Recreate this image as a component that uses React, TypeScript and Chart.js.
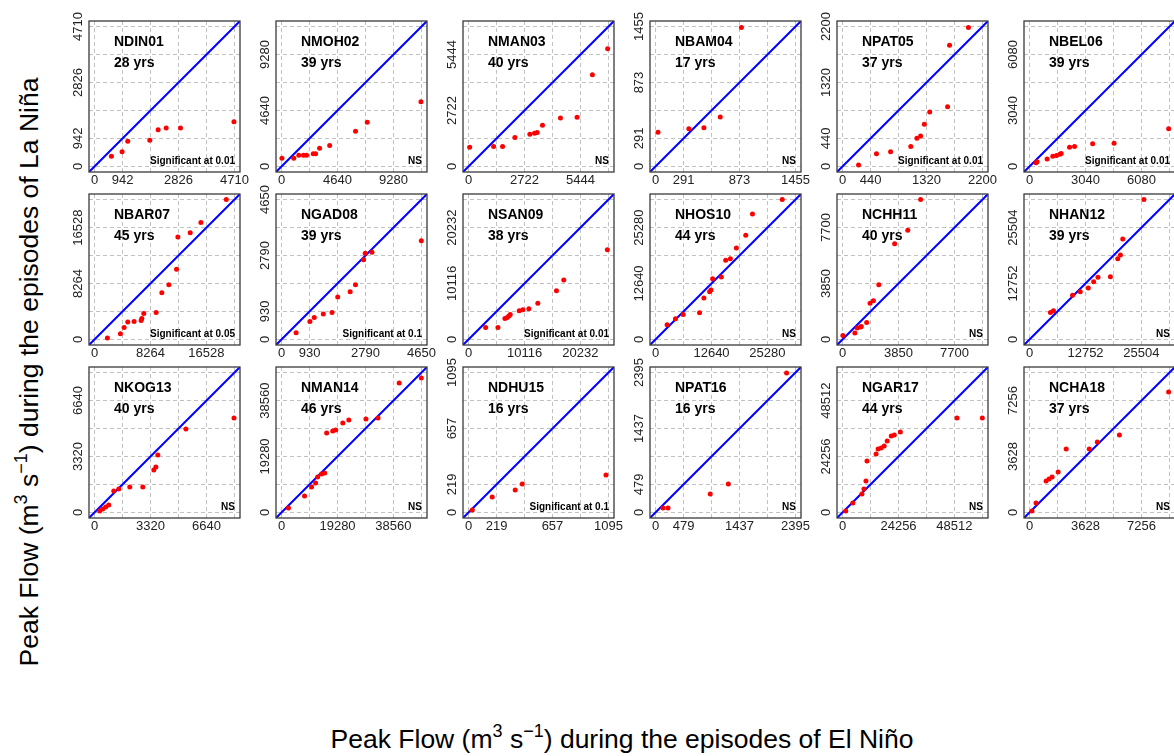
import React, { useEffect, useRef } from 'react';
import { Chart, registerables } from 'chart.js';

Chart.register(...registerables);

// ---------- DATA ----------
const stations = ['NDIN01', 'NMOH02', 'NMAN03', 'NBAM04', 'NPAT05', 'NBEL06', 'NBAR07', 'NGAD08', 'NSAN09', 'NHOS10', 'NCHH11', 'NHAN12', 'NKOG13', 'NMAN14', 'NDHU15', 'NPAT16', 'NGAR17', 'NCHA18'];
const recordYears = [28, 39, 40, 17, 37, 39, 45, 39, 38, 44, 40, 39, 40, 46, 16, 16, 44, 37];
const axisMax = [4710, 11600, 6805, 1455, 2200, 7600, 20660, 4650, 25290, 31600, 9625, 31880, 8300, 48200, 1095, 2395, 60640, 9070];
const tickLabels = [
  [0, 942, 2826, 4710], [0, 4640, 9280], [0, 2722, 5444], [0, 291, 873, 1455], [0, 440, 1320, 2200], [0, 3040, 6080],
  [0, 8264, 16528], [0, 930, 2790, 4650], [0, 10116, 20232], [0, 12640, 25280], [0, 3850, 7700], [0, 12752, 25504],
  [0, 3320, 6640], [0, 19280, 38560], [0, 219, 657, 1095], [0, 479, 1437, 2395], [0, 24256, 48512], [0, 3628, 7256],
];
const significance = [
  'Significant at 0.01', 'NS', 'NS', 'NS', 'Significant at 0.01', 'Significant at 0.01',
  'Significant at 0.05', 'Significant at 0.1', 'Significant at 0.01', 'NS', 'NS', 'NS',
  'NS', 'NS', 'Significant at 0.1', 'NS', 'NS', 'NS',
];

// El Niño (x) and La Niña (y) peak flows per station
const ndin01ElNino = [566, 926, 1117, 1860, 2141, 2411, 2895, 4695];
const ndin01LaNina = [346, 491, 848, 882, 1239, 1295, 1295, 1507];
const nmoh02ElNino = [30, 1010, 1428, 1818, 2068, 2625, 2820, 3154, 3989, 6133, 7107, 11561];
const nmoh02LaNina = [687, 687, 935, 935, 935, 1045, 1045, 1512, 1732, 2914, 3656, 5360];
const nman03ElNino = [52, 1217, 1654, 2253, 2982, 3208, 3338, 3597, 4471, 5280, 6025, 6769];
const nman03LaNina = [935, 968, 968, 1403, 1564, 1613, 1645, 2000, 2354, 2387, 4467, 5725];
const nbam04ElNino = [25, 346, 503, 673, 893];
const nbam04LaNina = [355, 393, 403, 514, 1445];
const npat05ElNino = [251, 533, 755, 1073, 1169, 1227, 1286, 1371, 1652, 1683, 1980];
const npat05LaNina = [21, 198, 229, 313, 443, 480, 662, 855, 938, 1908, 2184];
const nbel06ElNino = [351, 406, 952, 1261, 1461, 1643, 1716, 2171, 2444, 3427, 4592, 7558];
const nbel06LaNina = [198, 252, 396, 558, 594, 666, 702, 1045, 1081, 1225, 1261, 2053];
const nbar07ElNino = [1890, 3815, 4358, 4901, 5839, 6875, 6974, 7270, 9096, 9935, 10971, 12107, 12304, 14130, 15710, 19461];
const nbar07LaNina = [197, 838, 1775, 2564, 2663, 2811, 3106, 3846, 3994, 6903, 8086, 10355, 15137, 15778, 17258, 20660];
const ngad08ElNino = [483, 941, 1086, 1387, 1677, 1867, 2280, 2458, 2726, 2782, 3005, 4646];
const ngad08LaNina = [222, 599, 732, 843, 899, 1409, 1587, 1820, 2652, 2863, 2897, 3285];
const nsan09ElNino = [3080, 5306, 6569, 6990, 7291, 7532, 9156, 9818, 10900, 12524, 15893, 17217, 25098];
const nsan09LaNina = [2173, 2173, 3803, 3984, 4225, 4527, 5191, 5372, 5553, 6519, 8812, 10744, 16237];
const nhos10ElNino = [2596, 4487, 6228, 9936, 10919, 12206, 12509, 12887, 14854, 15838, 16897, 18260, 20378, 21892, 28626];
const nhos10LaNina = [3318, 4676, 5656, 6033, 9352, 10785, 11162, 13726, 14103, 17874, 18251, 20664, 23530, 28357, 31600];
const nchh11ElNino = [20, 845, 1007, 1239, 1285, 1657, 1889, 2121, 2492, 3583, 4488, 5369];
const nchh11LaNina = [276, 436, 781, 850, 896, 1172, 2481, 2665, 3767, 6593, 7512, 9625];
const nhan12ElNino = [4756, 5443, 9794, 11550, 13382, 14604, 15596, 18421, 20100, 20711, 21245, 26055];
const nhan12LaNina = [6163, 6543, 10043, 10880, 11717, 13163, 14152, 14304, 18413, 19250, 22902, 31880];
const nkog13ElNino = [303, 482, 660, 839, 1136, 1434, 2088, 2862, 3516, 3635, 3754, 5420, 8276];
const nkog13LaNina = [77, 196, 315, 434, 1265, 1384, 1503, 1503, 2513, 2691, 3404, 4949, 5602];
const nman14ElNino = [2360, 7912, 10341, 11729, 12423, 13811, 14852, 15546, 17628, 18669, 21098, 23180, 29080, 33244, 40531, 48165];
const nman14LaNina = [1484, 5624, 8729, 10109, 12179, 13214, 13559, 27360, 28050, 28395, 30810, 31846, 32191, 32536, 44612, 46337];
const ndhu15ElNino = [29, 185, 365, 420, 1076];
const ndhu15LaNina = [18, 120, 175, 222, 292];
const npat16ElNino = [127, 213, 936, 1246, 2244];
const npat16LaNina = [74, 74, 314, 485, 2388];
const ngar17ElNino = [1360, 4432, 8381, 9259, 10136, 10575, 14524, 15401, 16718, 18034, 19350, 21105, 22422, 25054, 49626, 60596];
const ngar17LaNina = [564, 4037, 7944, 10114, 13587, 22268, 25307, 27477, 27911, 28779, 30950, 33120, 33554, 34856, 40933, 40933];
const ncha18ElNino = [156, 417, 1069, 1264, 1460, 1851, 2372, 3870, 4392, 5825, 9018];
const ncha18LaNina = [84, 603, 2032, 2162, 2292, 2616, 4110, 4110, 4564, 5019, 7810];

const elNinoSeries = [ndin01ElNino, nmoh02ElNino, nman03ElNino, nbam04ElNino, npat05ElNino, nbel06ElNino, nbar07ElNino, ngad08ElNino, nsan09ElNino, nhos10ElNino, nchh11ElNino, nhan12ElNino, nkog13ElNino, nman14ElNino, ndhu15ElNino, npat16ElNino, ngar17ElNino, ncha18ElNino];
const laNinaSeries = [ndin01LaNina, nmoh02LaNina, nman03LaNina, nbam04LaNina, npat05LaNina, nbel06LaNina, nbar07LaNina, ngad08LaNina, nsan09LaNina, nhos10LaNina, nchh11LaNina, nhan12LaNina, nkog13LaNina, nman14LaNina, ndhu15LaNina, npat16LaNina, ngar17LaNina, ncha18LaNina];

// ---------- LAYOUT ----------
const FONT = '"Liberation Sans", Arial, Helvetica, sans-serif';
const BOX = 151;
const COL_LEFT = [89, 276, 463, 650, 837, 1024];
const ROW_TOP = [21, 194, 367];
const PAD = { left: 34, top: 12, right: 22, bottom: 22 };
const CW = PAD.left + BOX + PAD.right;
const CH = PAD.top + BOX + PAD.bottom;

const panelDecor = {
  id: 'panelDecor',
  afterDraw(chart: any, _args: any, opts: any) {
    const { ctx, chartArea: a, scales } = chart;
    ctx.save();
    ctx.strokeStyle = '#3a3a3a';
    ctx.lineWidth = 1.3;
    ctx.strokeRect(a.left, a.top, a.right - a.left, a.bottom - a.top);

    ctx.fillStyle = '#222';
    ctx.font = `13px ${FONT}`;
    ctx.textAlign = 'center';
    ctx.textBaseline = 'middle';
    for (const v of opts.labels as number[]) {
      const px = scales.x.getPixelForValue(v);
      ctx.fillText(String(v), px, a.bottom + 8);
      const py = scales.y.getPixelForValue(v);
      ctx.save();
      ctx.translate(a.left - 10.5, py);
      ctx.rotate(-Math.PI / 2);
      ctx.fillText(String(v), 0, 0);
      ctx.restore();
    }

    ctx.fillStyle = '#000';
    ctx.textAlign = 'left';
    ctx.font = `bold 14px ${FONT}`;
    ctx.fillText(opts.name, a.left + 25, a.top + 21);
    ctx.fillText(`${opts.years} yrs`, a.left + 25, a.top + 42);

    ctx.textAlign = 'right';
    ctx.font = `bold 10px ${FONT}`;
    ctx.fillText(opts.sig, a.right - 5, a.bottom - 11);
    ctx.restore();
  },
};

function axisOptions(M: number) {
  return {
    type: 'linear' as const,
    min: -0.04 * M,
    max: 1.04 * M,
    afterBuildTicks: (s: any) => {
      s.ticks = [0, 1, 2, 3, 4, 5].map((i) => ({ value: (i * M) / 5 }));
    },
    afterFit: (s: any) => {
      if (s.isHorizontal()) s.height = 0;
      else s.width = 0;
    },
    ticks: { display: false },
    grid: { color: '#c2c2c2', lineWidth: 1, drawTicks: false },
    border: { display: false, dash: [4, 3] },
  };
}

function Panel({ idx }: { idx: number }) {
  const ref = useRef<HTMLCanvasElement>(null);
  useEffect(() => {
    const M = axisMax[idx];
    const lo = -0.04 * M;
    const hi = 1.04 * M;
    const pts = elNinoSeries[idx].map((x, i) => ({ x, y: laNinaSeries[idx][i] }));
    const chart = new Chart(ref.current as HTMLCanvasElement, {
      type: 'scatter',
      data: {
        datasets: [
          {
            type: 'scatter',
            data: pts,
            backgroundColor: '#ff0000',
            borderColor: '#ff0000',
            borderWidth: 0,
            pointRadius: 2.5,
          } as any,
          {
            type: 'line',
            data: [{ x: lo, y: lo }, { x: hi, y: hi }],
            borderColor: '#0000ff',
            borderWidth: 2,
            pointRadius: 0,
            fill: false,
          } as any,
        ],
      },
      options: {
        responsive: false,
        animation: false,
        devicePixelRatio: 1,
        layout: { padding: PAD, autoPadding: false } as any,
        scales: { x: axisOptions(M) as any, y: axisOptions(M) as any },
        plugins: {
          legend: { display: false },
          tooltip: { enabled: false },
          panelDecor: {
            labels: tickLabels[idx],
            name: stations[idx],
            years: recordYears[idx],
            sig: significance[idx],
          },
        } as any,
      },
      plugins: [panelDecor],
    });
    return () => chart.destroy();
  }, [idx]);
  const r = Math.floor(idx / 6);
  const c = idx % 6;
  return (
    <canvas
      ref={ref}
      width={CW}
      height={CH}
      style={{ position: 'absolute', left: COL_LEFT[c] - PAD.left, top: ROW_TOP[r] - PAD.top, width: CW, height: CH }}
    />
  );
}

const supStyle: React.CSSProperties = { fontSize: 18, position: 'relative', top: -11 };

export default function App() {
  return (
    <div style={{ position: 'fixed', left: 0, top: 0, width: 1174, height: 756, overflow: 'hidden', background: '#fff', fontFamily: FONT }}>
      {stations.map((_, i) => (
        <Panel key={i} idx={i} />
      ))}
      <div
        style={{
          position: 'absolute', left: 622, top: 740, transform: 'translate(-50%, -50%)',
          whiteSpace: 'nowrap', fontSize: 26.5, color: '#000', lineHeight: '30px',
        }}
      >
        Peak Flow (m<span style={supStyle}>3</span> s<span style={supStyle}>−1</span>) during the episodes of El Niño
      </div>
      <div
        style={{
          position: 'absolute', left: 30, top: 372, transform: 'translate(-50%, -50%) rotate(-90deg)',
          whiteSpace: 'nowrap', fontSize: 26.5, color: '#000', lineHeight: '30px',
        }}
      >
        Peak Flow (m<span style={supStyle}>3</span> s<span style={supStyle}>−1</span>) during the episodes of La Niña
      </div>
    </div>
  );
}
